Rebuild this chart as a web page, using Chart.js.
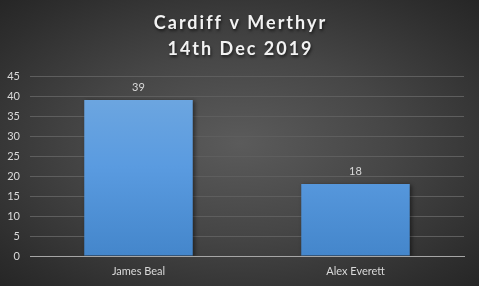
<!DOCTYPE html>
<html>
<head>
<meta charset="utf-8">
<script src="https://cdn.jsdelivr.net/npm/chart.js@4"></script>
<style>
  html, body { margin: 0; padding: 0; }
  body {
    width: 479px; height: 286px; overflow: hidden;
    background: radial-gradient(ellipse at 50% 50%, #5b5b5b 0%, #464646 45%, #2e2e2e 85%, #262626 100%);
  }
  #wrap { width: 479px; height: 286px; position: relative; }
</style>
</head>
<body>
<div id="wrap"><canvas id="chart"></canvas></div>
<script>
const TITLE = ["Cardiff v Merthyr", "14th Dec 2019"];
const PLAYERS = ["James Beal", "Alex Everett"];
const POINTS = [39, 18];
const Y_MAX = 45;
const Y_STEP = 5;

const FONT = "Lato, 'Open Sans', sans-serif";

function barFill(ctx) {
  const area = ctx.chart.chartArea;
  if (!area) return "#5b9bd5";
  const g = ctx.chart.ctx.createLinearGradient(0, area.top, 0, area.bottom);
  g.addColorStop(0, "#72a9e0");
  g.addColorStop(0.5, "#5a9be0");
  g.addColorStop(1, "#4486cb");
  return g;
}

// title with letter spacing and a soft shadow
const titlePlugin = {
  id: "spacedTitle",
  afterDraw(chart) {
    const c = chart.ctx;
    c.save();
    c.font = "bold 18px " + FONT;
    c.letterSpacing = "2px";
    c.textAlign = "center";
    c.textBaseline = "middle";
    c.fillStyle = "#f2f2f2";
    c.shadowColor = "rgba(0,0,0,0.6)";
    c.shadowOffsetX = 1;
    c.shadowOffsetY = 2;
    c.shadowBlur = 3;
    TITLE.forEach((t, i) => c.fillText(t, chart.width / 2 + 1, 23 + i * 26));
    c.restore();
  },
};

// bar shadow + value labels
const barExtras = {
  id: "barExtras",
  beforeDatasetsDraw(chart) {
    const c = chart.ctx;
    c.save();
    c.shadowColor = "rgba(0,0,0,0.45)";
    c.shadowOffsetX = 2;
    c.shadowOffsetY = 1;
    c.shadowBlur = 4;
  },
  afterDatasetsDraw(chart) {
    const c = chart.ctx;
    c.restore();
    c.save();
    c.font = "11px " + FONT;
    c.fillStyle = "#d9d9d9";
    c.textAlign = "center";
    c.textBaseline = "middle";
    chart.getDatasetMeta(0).data.forEach((bar, i) => {
      c.fillText(String(POINTS[i]), bar.x, bar.y - 13);
    });
    c.restore();
  },
};

new Chart(document.getElementById("chart"), {
  type: "bar",
  data: {
    labels: PLAYERS,
    datasets: [
      {
        data: POINTS,
        backgroundColor: barFill,
        borderWidth: 0,
        categoryPercentage: 0.5,
        barPercentage: 1,
      },
    ],
  },
  options: {
    responsive: true,
    maintainAspectRatio: false,
    animation: false,
    events: [],
    layout: { padding: { top: 76, right: 15, left: 0, bottom: 0 } },
    plugins: {
      legend: { display: false },
      title: { display: false },
      tooltip: { enabled: false },
    },
    scales: {
      x: {
        grid: { display: false, drawTicks: false },
        border: { color: "#a6a6a6", width: 1 },
        ticks: { color: "#d9d9d9", font: { family: FONT, size: 11 }, padding: 9 },
        afterFit(s) { s.height = 30; },
      },
      y: {
        min: 0,
        max: Y_MAX,
        grid: { color: "#5e5e5e", lineWidth: 1, drawTicks: false },
        border: { display: false },
        ticks: {
          stepSize: Y_STEP,
          color: "#d9d9d9",
          font: { family: FONT, size: 11 },
          padding: 10,
        },
        afterFit(s) { s.width = 30; },
      },
    },
  },
  plugins: [barExtras, titlePlugin],
});
</script>
</body>
</html>
